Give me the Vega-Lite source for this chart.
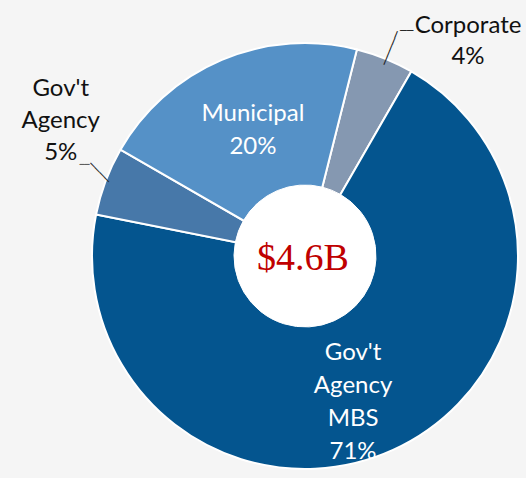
{
  "$schema": "https://vega.github.io/schema/vega-lite/v6.json",
  "width": 426,
  "height": 426,
  "autosize": {"type": "none"},
  "padding": {"left": 92, "top": 43, "right": 8, "bottom": 9},
  "background": "#f5f5f5",
  "config": {
    "view": {
      "stroke": null,
      "fill": {
        "gradient": "linear",
        "x1": 0, "y1": 0, "x2": 1, "y2": 1,
        "stops": [
          {"offset": 0, "color": "#ffffff"},
          {"offset": 0.6, "color": "#f8f8f8"},
          {"offset": 1, "color": "#d2d2d2"}
        ]
      }
    }
  },
  "data": {
    "values": [
      {"cat": "Corporate", "value": 4.4, "ord": 1, "label": "Corporate\n4%"},
      {"cat": "Gov't Agency MBS", "value": 69.8, "ord": 2, "label": "Gov't\nAgency\nMBS\n71%"},
      {"cat": "Gov't Agency", "value": 5.2, "ord": 3, "label": "Gov't\nAgency\n5%"},
      {"cat": "Municipal", "value": 20.6, "ord": 4, "label": "Municipal\n20%"}
    ]
  },
  "encoding": {
    "theta": {"field": "value", "type": "quantitative", "stack": true, "scale": {"range": [0.2461, 6.5293]}},
    "order": {"field": "ord", "type": "quantitative"}
  },
  "layer": [
    {
      "mark": {"type": "arc", "stroke": "white", "strokeWidth": 2},
      "encoding": {
        "color": {
          "field": "cat", "type": "nominal", "legend": null,
          "scale": {
            "domain": ["Corporate", "Gov't Agency MBS", "Gov't Agency", "Municipal"],
            "range": ["#8598b1", "#04558f", "#4778a9", "#5591c7"]
          }
        }
      }
    },
    {
      "mark": {"type": "arc", "radius": 71, "color": "white", "stroke": "white", "strokeWidth": 1}
    },
    {
      "mark": {"type": "text", "radius": 0, "dx": -2, "dy": 3, "font": "Liberation Serif", "fontSize": 38, "color": "#c00000", "align": "center", "baseline": "middle"},
      "encoding": {"text": {"condition": {"test": "datum.cat === 'Municipal'", "value": "$4.6B"}, "value": ""}}
    },
    {
      "mark": {"type": "text", "radius": 151, "thetaOffset": 0.049, "font": "Lato", "fontSize": 24, "lineHeight": 33, "lineBreak": "\n", "color": "white", "align": "center", "baseline": "middle"},
      "encoding": {"text": {"field": "label", "type": "nominal", "condition": {"test": "datum.cat !== 'Municipal'", "value": ""}}}
    },
    {
      "mark": {"type": "text", "radius": 108, "thetaOffset": -0.035, "font": "Lato", "fontSize": 24, "lineHeight": 33, "lineBreak": "\n", "color": "white", "align": "center", "baseline": "middle"},
      "encoding": {"text": {"field": "label", "type": "nominal", "condition": {"test": "datum.cat !== \"Gov't Agency MBS\"", "value": ""}}}
    },
    {
      "mark": {"type": "text", "radius": 282, "thetaOffset": 0.232, "font": "Lato", "fontSize": 24, "lineHeight": 31, "lineBreak": "\n", "color": "#111111", "align": "center", "baseline": "middle"},
      "encoding": {"text": {"field": "label", "type": "nominal", "condition": {"test": "datum.cat !== 'Corporate'", "value": ""}}}
    },
    {
      "mark": {"type": "text", "radius": 296, "thetaOffset": 0.241, "font": "Lato", "fontSize": 24, "lineHeight": 32, "lineBreak": "\n", "color": "#111111", "align": "center", "baseline": "middle"},
      "encoding": {"text": {"field": "label", "type": "nominal", "condition": {"test": "datum.cat !== \"Gov't Agency\"", "value": ""}}}
    },
    {
      "mark": {"type": "text", "radius": 225, "thetaOffset": 0.007, "angle": -68, "font": "DejaVu Sans Mono", "fontSize": 12, "color": "#222222", "align": "center", "baseline": "middle"},
      "encoding": {"text": {"condition": {"test": "datum.cat === 'Corporate'", "value": "─────"}, "value": ""}}
    },
    {
      "mark": {"type": "text", "radius": 247, "thetaOffset": 0.04, "font": "DejaVu Sans Mono", "fontSize": 11, "color": "#222222", "align": "center", "baseline": "middle"},
      "encoding": {"text": {"condition": {"test": "datum.cat === 'Corporate'", "value": "──"}, "value": ""}}
    },
    {
      "mark": {"type": "text", "radius": 222, "thetaOffset": 0.024, "angle": 46.5, "font": "DejaVu Sans Mono", "fontSize": 11, "color": "#222222", "align": "center", "baseline": "middle"},
      "encoding": {"text": {"condition": {"test": "datum.cat === \"Gov't Agency\"", "value": "────"}, "value": ""}}
    },
    {
      "mark": {"type": "text", "radius": 239, "thetaOffset": 0.038, "font": "DejaVu Sans Mono", "fontSize": 8.5, "color": "#222222", "align": "center", "baseline": "middle"},
      "encoding": {"text": {"condition": {"test": "datum.cat === \"Gov't Agency\"", "value": "──"}, "value": ""}}
    }
  ]
}
